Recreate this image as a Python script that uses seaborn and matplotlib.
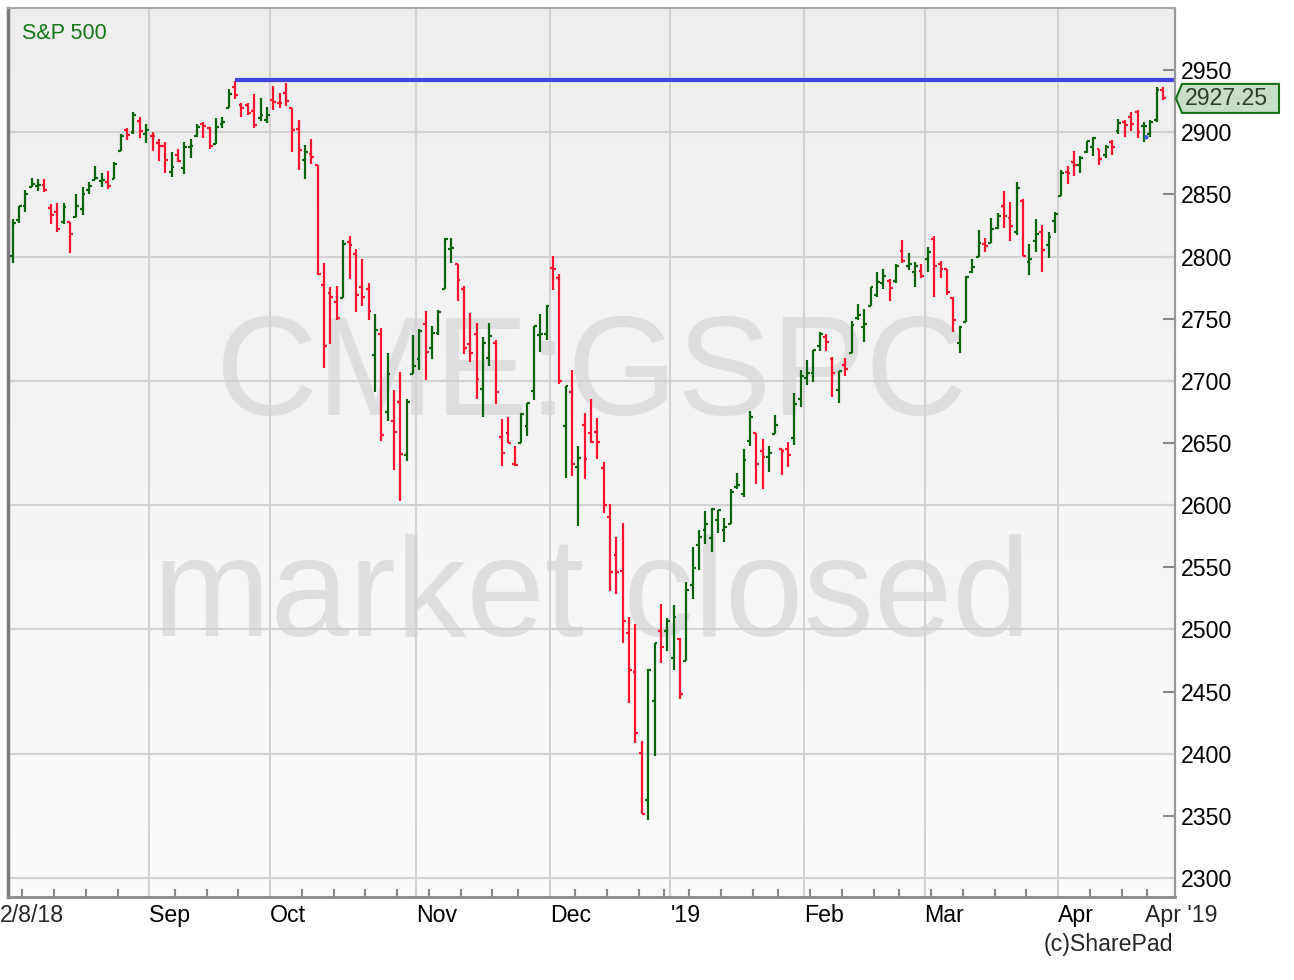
import numpy as np
import pandas as pd
import matplotlib
matplotlib.use("Agg")
import matplotlib.pyplot as plt
import seaborn as sns
from matplotlib.colors import LinearSegmentedColormap
from matplotlib.patches import Polygon
from matplotlib.transforms import IdentityTransform

# trading days, 2 Aug 2018 -> 24 Apr 2019
HOLIDAYS = ["2018-09-03", "2018-11-22", "2018-12-05", "2018-12-25",
            "2019-01-01", "2019-01-21", "2019-02-18", "2019-04-19"]
dates = pd.bdate_range("2018-08-02", "2019-04-24", freq="C", holidays=HOLIDAYS)

opens = [
    # Aug
    2800.48, 2829.62, 2840.29, 2855.92, 2856.79, 2857.19, 2838.90, 2835.46, 2827.88, 2827.95, 2831.44,
    2838.32, 2853.93, 2861.51, 2860.99, 2860.29, 2862.35, 2884.69, 2901.45, 2900.62, 2908.94, 2898.37,
    # Sep
    2896.96, 2891.59, 2888.64, 2868.26, 2881.39, 2871.57, 2888.29, 2896.85, 2906.38, 2903.83, 2890.74,
    2906.60, 2919.73, 2936.76, 2921.83, 2921.75, 2916.98, 2911.65, 2910.03,
    # Oct
    2926.29, 2923.80, 2931.69, 2919.35, 2902.54, 2877.53, 2882.51, 2873.90, 2776.87, 2770.54, 2763.83,
    2767.05, 2811.67, 2802.00, 2775.66, 2773.94, 2721.03, 2737.87, 2674.88, 2667.86, 2682.65, 2640.68, 2705.60,
    # Nov
    2717.58, 2745.45, 2726.37, 2738.40, 2774.13, 2806.38, 2794.10, 2773.93, 2730.05, 2737.90, 2693.52,
    2718.54, 2730.74, 2654.60, 2657.74, 2633.36, 2649.97, 2663.75, 2691.45, 2736.97, 2737.76,
    # Dec
    2790.50, 2782.43, 2663.51, 2691.26, 2630.86, 2664.44, 2658.23, 2658.70, 2629.68, 2590.75, 2559.90,
    2547.05, 2496.77, 2465.38, 2400.56, 2363.12, 2442.50, 2498.77, 2498.94,
    # Jan
    2476.96, 2491.92, 2474.33, 2535.61, 2568.11, 2580.00, 2573.51, 2588.11, 2580.31, 2585.10, 2614.75,
    2609.28, 2651.27, 2657.88, 2643.48, 2638.84, 2657.44, 2644.97, 2644.89, 2653.62, 2685.49,
    # Feb
    2702.32, 2706.49, 2728.34, 2735.05, 2717.53, 2692.36, 2712.40, 2722.61, 2750.30, 2743.50, 2760.24,
    2769.28, 2779.05, 2780.67, 2780.67, 2804.35, 2792.36, 2787.50, 2788.11,
    # Mar
    2798.22, 2814.37, 2794.41, 2790.27, 2766.53, 2730.79, 2747.61, 2787.34, 2799.78, 2810.38, 2810.79,
    2822.61, 2840.76, 2831.34, 2819.72, 2844.52, 2796.01, 2812.66, 2819.72, 2809.40, 2828.27,
    # Apr
    2848.63, 2868.24, 2876.09, 2873.99, 2884.16, 2888.46, 2886.58, 2881.37, 2891.92, 2900.86, 2908.32,
    2912.26, 2916.04, 2904.81, 2898.78, 2909.99, 2934.00,
]
highs = [
    2829.91, 2840.38, 2853.29, 2863.43, 2862.44, 2862.48, 2842.20, 2843.40, 2843.11, 2827.95, 2850.49,
    2855.63, 2859.76, 2873.23, 2867.54, 2868.78, 2876.16, 2898.25, 2903.77, 2916.50, 2912.46, 2906.32,
    2900.18, 2894.21, 2892.05, 2883.81, 2886.93, 2892.52, 2894.65, 2906.76, 2908.30, 2904.65, 2911.17,
    2912.36, 2934.80, 2940.91, 2923.79, 2923.95, 2931.15, 2927.22, 2920.53,
    2937.06, 2931.42, 2939.86, 2919.78, 2909.64, 2889.45, 2894.83, 2874.02, 2795.14, 2775.77, 2775.99,
    2813.46, 2816.94, 2806.04, 2797.77, 2778.94, 2753.59, 2742.59, 2722.70, 2692.38, 2706.85, 2685.43, 2736.69,
    2741.67, 2756.55, 2744.27, 2756.82, 2815.15, 2814.75, 2794.10, 2775.99, 2754.60, 2746.80, 2735.38,
    2746.75, 2733.16, 2669.44, 2670.73, 2647.55, 2674.35, 2682.53, 2744.00, 2753.75, 2760.88,
    2800.18, 2785.93, 2696.15, 2708.54, 2647.51, 2674.35, 2685.44, 2670.19, 2635.07, 2601.13, 2573.99,
    2585.29, 2509.63, 2504.41, 2410.34, 2467.76, 2489.10, 2520.27, 2509.24,
    2519.49, 2493.14, 2538.07, 2566.16, 2579.82, 2595.32, 2597.82, 2596.27, 2589.32, 2613.08, 2625.76,
    2645.06, 2675.47, 2657.88, 2653.19, 2647.20, 2672.38, 2644.97, 2650.93, 2690.44, 2708.95,
    2716.66, 2724.99, 2738.98, 2738.08, 2719.32, 2708.07, 2718.05, 2748.19, 2761.85, 2757.90, 2775.66,
    2787.33, 2789.88, 2781.58, 2794.20, 2813.49, 2803.12, 2795.76, 2793.73,
    2808.02, 2816.88, 2796.44, 2790.27, 2767.25, 2744.13, 2784.00, 2798.32, 2821.24, 2815.00, 2830.73,
    2835.41, 2852.42, 2843.54, 2860.31, 2846.16, 2809.79, 2829.87, 2825.56, 2819.71, 2836.03,
    2869.40, 2872.90, 2885.25, 2881.28, 2893.24, 2895.95, 2886.88, 2889.71, 2893.42, 2910.54, 2909.60,
    2916.06, 2918.00, 2908.40, 2909.51, 2936.31, 2936.83,
]
lows = [
    2795.14, 2827.38, 2835.98, 2855.92, 2853.09, 2851.98, 2825.81, 2819.88, 2826.58, 2802.49, 2831.44,
    2833.73, 2850.62, 2861.32, 2856.05, 2854.03, 2862.35, 2884.69, 2893.50, 2898.40, 2895.22, 2891.73,
    2885.13, 2876.92, 2867.29, 2864.12, 2875.94, 2866.78, 2879.20, 2896.39, 2895.77, 2886.16, 2890.43,
    2903.82, 2919.73, 2927.11, 2912.63, 2913.70, 2903.28, 2909.27, 2907.50,
    2917.91, 2919.37, 2921.36, 2883.92, 2869.29, 2862.08, 2874.27, 2784.86, 2710.51, 2729.44, 2749.03,
    2766.91, 2781.81, 2755.18, 2760.27, 2749.22, 2691.43, 2651.89, 2667.84, 2628.16, 2603.54, 2635.34, 2705.60,
    2708.85, 2700.44, 2717.94, 2737.08, 2774.13, 2794.99, 2764.24, 2722.00, 2714.98, 2685.75, 2670.75,
    2712.16, 2681.09, 2631.52, 2649.82, 2631.09, 2649.97, 2655.89, 2684.38, 2722.94, 2732.76,
    2773.38, 2697.18, 2621.53, 2623.14, 2583.23, 2621.30, 2650.26, 2637.27, 2593.84, 2530.54, 2528.71,
    2488.96, 2441.18, 2408.55, 2351.10, 2346.58, 2397.94, 2472.89, 2482.82,
    2467.47, 2443.96, 2474.33, 2524.56, 2547.56, 2568.89, 2562.02, 2577.40, 2570.41, 2585.10, 2612.68,
    2606.36, 2647.58, 2617.27, 2612.86, 2627.01, 2657.33, 2624.06, 2631.05, 2648.34, 2678.65,
    2696.88, 2698.75, 2724.03, 2724.15, 2687.26, 2681.83, 2703.79, 2722.61, 2748.63, 2731.23, 2760.24,
    2767.29, 2774.06, 2764.55, 2779.11, 2794.99, 2789.47, 2775.13, 2782.51,
    2787.38, 2767.66, 2782.97, 2768.69, 2739.09, 2722.27, 2747.61, 2786.73, 2799.78, 2803.46, 2810.79,
    2821.99, 2823.27, 2812.43, 2817.38, 2800.47, 2785.02, 2803.99, 2787.72, 2798.77, 2819.23,
    2848.63, 2858.75, 2865.17, 2867.14, 2882.99, 2880.78, 2873.33, 2879.13, 2881.99, 2898.37, 2896.48,
    2900.71, 2895.45, 2891.90, 2896.35, 2908.53, 2926.05,
]
closes = [
    2827.22, 2840.35, 2850.40, 2858.45, 2857.70, 2853.58, 2833.28, 2821.93, 2839.96, 2818.37, 2840.69,
    2850.13, 2857.05, 2862.96, 2861.82, 2856.98, 2874.69, 2896.74, 2897.52, 2914.04, 2901.13, 2901.52,
    2896.72, 2888.60, 2878.05, 2871.68, 2877.13, 2887.89, 2888.92, 2904.18, 2904.98, 2888.80, 2904.31,
    2907.95, 2930.75, 2929.67, 2919.37, 2915.56, 2905.97, 2914.00, 2913.98,
    2924.59, 2923.43, 2925.51, 2901.61, 2885.57, 2884.43, 2880.34, 2785.68, 2728.37, 2767.13, 2750.79,
    2809.92, 2809.21, 2768.78, 2767.78, 2755.88, 2740.69, 2656.10, 2705.57, 2658.69, 2641.25, 2682.63, 2711.74,
    2740.37, 2723.06, 2738.31, 2755.45, 2813.89, 2806.83, 2781.01, 2726.22, 2722.18, 2701.58, 2730.20,
    2736.27, 2690.73, 2641.89, 2649.93, 2632.56, 2673.45, 2682.17, 2743.79, 2737.76, 2760.17,
    2790.37, 2700.06, 2695.95, 2633.08, 2637.72, 2636.78, 2651.07, 2650.54, 2599.95, 2545.94, 2546.16,
    2506.96, 2467.42, 2416.62, 2351.10, 2467.70, 2488.83, 2485.74, 2506.85,
    2510.03, 2447.89, 2531.94, 2549.69, 2574.41, 2584.96, 2596.64, 2596.26, 2582.61, 2610.30, 2616.10,
    2635.96, 2670.71, 2632.90, 2638.70, 2642.33, 2664.76, 2643.85, 2640.00, 2681.05, 2704.10,
    2706.53, 2724.87, 2737.70, 2731.61, 2706.05, 2707.88, 2709.80, 2744.73, 2753.03, 2745.73, 2775.60,
    2779.76, 2784.70, 2774.88, 2792.67, 2796.11, 2793.90, 2792.38, 2784.49,
    2803.69, 2792.81, 2789.65, 2771.45, 2748.93, 2743.07, 2783.30, 2791.52, 2810.92, 2808.48, 2822.48,
    2832.94, 2832.57, 2824.23, 2854.88, 2800.71, 2798.36, 2818.46, 2805.37, 2815.44, 2834.40,
    2867.19, 2867.24, 2873.40, 2879.39, 2892.74, 2895.77, 2878.20, 2888.21, 2888.32, 2907.41, 2905.58,
    2907.06, 2900.45, 2905.03, 2907.97, 2933.68, 2927.25,
]

MONTH_LABELS = ["Sep", "Oct", "Nov", "Dec", "'19", "Feb", "Mar", "Apr"]
Y_TICKS = list(range(2300, 2951, 50))
RESISTANCE = 2942          # blue line, drawn from the Sep 21 peak
RESISTANCE_START = "2018-09-21"
DIV_MARK_DATE = "2019-04-18"
DIV_MARK_VALUE = 2896

GREEN = "#0a640a"
RED = "#ff1430"

df = pd.DataFrame({"date": dates, "open": opens, "high": highs, "low": lows, "close": closes})
df["x"] = np.arange(len(df))
df["up"] = df["close"] >= df["open"]

sns.set_style("white")
plt.rcParams["font.family"] = ["Liberation Sans", "DejaVu Sans"]

W, H = 1294, 980
fig = plt.figure(figsize=(W / 100, H / 100), dpi=100)
ax = fig.add_axes([8 / W, 1 - 897 / H, (1175 - 8) / W, (897 - 8) / H])

xmin, xmax = -0.74, 182.9
ymin, ymax = 2284.7, 3000
ax.set_xlim(xmin, xmax)
ax.set_ylim(ymin, ymax)

# gradient background
bg = LinearSegmentedColormap.from_list("bg", ["#eeeeee", "#fbfbfb"])
ax.imshow(np.linspace(0, 1, 256).reshape(-1, 1), cmap=bg, aspect="auto",
          extent=[xmin, xmax, ymin, ymax], origin="upper", zorder=0)

# watermark
ax.text(0.5, 0.5422, "CME:GSPC", transform=ax.transAxes, ha="center", va="baseline",
        fontsize=101.5, color="#dedede", zorder=0.5)
ax.text(0.5, 0.2936, "market closed", transform=ax.transAxes, ha="center", va="baseline",
        fontsize=101.5, color="#dedede", zorder=0.5)

# month / week boundaries
month_pos = [i - 0.5 for i in range(1, len(df)) if dates[i].month != dates[i - 1].month]
week_pos = [i - 0.5 for i in range(1, len(df)) if dates[i].weekday() < dates[i - 1].weekday()]

for v in range(2300, 3000, 100):
    ax.axhline(v, color="#d2d2d2", lw=1.5, zorder=1)
for p in month_pos:
    ax.axvline(p, color="#d2d2d2", lw=1.5, zorder=1)

# OHLC bars
cols = np.where(df["up"], GREEN, RED)
ax.vlines(df["x"], df["low"], df["high"], colors=cols, lw=1.6, zorder=3)
ax.hlines(df["open"], df["x"] - 0.45, df["x"], colors=cols, lw=1.6, zorder=3)
ax.hlines(df["close"], df["x"], df["x"] + 0.45, colors=cols, lw=1.6, zorder=3)

# resistance line from the September high
rs = int(np.where(dates == pd.Timestamp(RESISTANCE_START))[0][0])
ax.hlines(RESISTANCE, rs, xmax, color="#4343dd", lw=3, zorder=4)

dm = int(np.where(dates == pd.Timestamp(DIV_MARK_DATE))[0][0])
sns.scatterplot(x=[dm + 0.4], y=[DIV_MARK_VALUE], color="#3a5aff", s=10,
                edgecolor="none", ax=ax, zorder=5, legend=False)

# axes styling
ax.yaxis.tick_right()
ax.set_yticks(Y_TICKS)
ax.set_yticklabels([str(v) for v in Y_TICKS])
ax.tick_params(axis="y", direction="in", length=9, width=1.5, color="#888888",
               labelsize=16.7, labelcolor="black", pad=4, right=True, left=False)

ax.set_xticks(month_pos)
ax.set_xticklabels(MONTH_LABELS, ha="left")
ax.set_xticks(week_pos, minor=True)
ax.tick_params(axis="x", which="major", direction="in", length=9, width=1.5,
               color="#888888", labelsize=16.7, labelcolor="black", pad=5.2, bottom=True)
ax.tick_params(axis="x", which="minor", direction="in", length=6, width=1.5,
               color="#888888", bottom=True)
ax.set_xlabel("")
ax.set_ylabel("")

ax.spines["left"].set_color("#7a7a7a")
ax.spines["left"].set_linewidth(2.5)
ax.spines["bottom"].set_color("#8a8a8a")
ax.spines["bottom"].set_linewidth(2)
ax.spines["right"].set_color("#999999")
ax.spines["right"].set_linewidth(1.6)
ax.spines["top"].set_color("#a8a8a8")
ax.spines["top"].set_linewidth(1.5)
for s in ax.spines.values():
    s.set_visible(True)
    s.set_zorder(6)

# texts outside the plot
fig.text(22 / W, 1 - 39 / H, "S&P 500", color="#167716", fontsize=15.5, va="baseline", ha="left")
fig.text(0, 1 - 904 / H, "2/8/18", fontsize=16.7, va="top", ha="left")
fig.text(1145 / W, 1 - 904 / H, "Apr '19", fontsize=16.7, va="top", ha="left")
fig.text(1173 / W, 1 - 951 / H, "(c)SharePad", fontsize=16.7, va="baseline", ha="right")

# last price tag
last = closes[-1]
yc = ax.transData.transform((0, last))[1]
xr = ax.transAxes.transform((1, 0))[0]
hh = 14.5
tag = Polygon([(xr + 1, yc), (xr + 7, yc + hh), (xr + 104, yc + hh),
               (xr + 104, yc - hh), (xr + 7, yc - hh)], closed=True,
              transform=IdentityTransform(), facecolor="#c6dfc6", edgecolor="#167016", lw=1.5)
fig.add_artist(tag)
fig.text(xr + 10, yc, f"{last:.2f}", transform=IdentityTransform(), fontsize=16.7,
         color="#2e3e2e", va="center", ha="left")

fig.savefig("out.png", dpi=100)
